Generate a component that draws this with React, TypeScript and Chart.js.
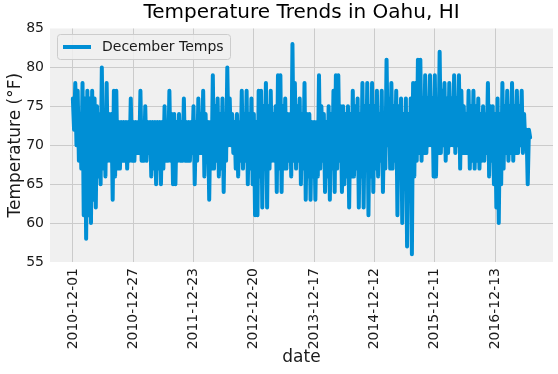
import { useEffect, useRef } from "react";
import { Chart, registerables } from "chart.js";

Chart.register(...registerables);

const TITLE = "Temperature Trends in Oahu, HI";
const SERIES_LABEL = "December Temps";
const Y_LABEL = "Temperature (°F)";
const X_LABEL = "date";

// row positions (pandas index order) where the date ticks sit
const TICK_POSITIONS = [0, 200, 400, 600, 800, 1000, 1200, 1400];
const TICK_LABELS = [
  "2010-12-01",
  "2010-12-27",
  "2011-12-23",
  "2012-12-20",
  "2013-12-17",
  "2014-12-12",
  "2015-12-11",
  "2016-12-13",
];
const LAST_ROW = 1516;
const SAMPLE_STEP = 4; // every 4th row

const Y_MIN = 55;
const Y_MAX = 85;

const TEMPS = [
  76, 72, 78, 70, 77, 68, 74, 67, 78, 61, 76, 58, 77, 61, 76, 60,
  77, 63, 76, 62, 75, 66, 74, 65, 80, 67, 74, 66, 78, 68, 74, 68,
  74, 63, 77, 66, 77, 67, 73, 67, 73, 68, 73, 68, 73, 67, 73, 68,
  76, 68, 73, 68, 73, 69, 73, 69, 77, 68, 73, 68, 75, 68, 73, 69,
  73, 66, 73, 67, 73, 65, 73, 67, 73, 65, 73, 67, 75, 68, 73, 68,
  77, 68, 74, 65, 74, 65, 73, 68, 74, 68, 73, 68, 76, 68, 73, 68,
  73, 68, 73, 69, 75, 65, 73, 68, 76, 69, 74, 69, 77, 66, 74, 68,
  73, 63, 73, 67, 79, 67, 75, 68, 76, 66, 74, 67, 76, 64, 74, 68,
  80, 70, 76, 70, 74, 69, 73, 67, 74, 66, 73, 68, 77, 67, 74, 68,
  77, 65, 74, 67, 76, 65, 74, 61, 73, 61, 77, 66, 77, 62, 75, 67,
  78, 62, 75, 67, 77, 68, 74, 68, 75, 64, 79, 67, 79, 64, 75, 67,
  76, 67, 74, 68, 74, 66, 83, 68, 78, 67, 75, 68, 76, 65, 74, 67,
  78, 63, 74, 66, 74, 63, 73, 66, 73, 63, 73, 66, 79, 67, 75, 68,
  74, 64, 73, 66, 75, 63, 74, 67, 77, 64, 79, 67, 79, 68, 75, 64,
  75, 65, 74, 66, 75, 62, 74, 66, 77, 66, 75, 67, 76, 62, 74, 66,
  78, 62, 75, 67, 78, 61, 75, 66, 78, 64, 75, 67, 77, 66, 74, 68,
  77, 64, 74, 67, 81, 70, 76, 67, 78, 67, 75, 68, 77, 61, 75, 66,
  76, 60, 74, 65, 76, 57, 74, 63, 76, 56, 78, 66, 78, 68, 81, 69,
  81, 68, 76, 69, 79, 69, 76, 70, 79, 70, 76, 66, 79, 66, 76, 69,
  82, 69, 77, 70, 78, 68, 76, 69, 78, 70, 76, 70, 79, 69, 76, 70,
  79, 67, 77, 69, 75, 69, 74, 69, 77, 67, 75, 68, 77, 67, 75, 68,
  76, 67, 74, 68, 75, 68, 74, 69, 78, 66, 75, 68, 75, 65, 74, 62,
  76, 60, 74, 65, 78, 67, 75, 69, 77, 68, 75, 69, 78, 68, 75, 69,
  77, 69, 75, 70, 77, 69, 74, 70, 72, 65, 72, 71,
];

const LINE_COLOR = "#008fd5";
const AXES_BG = "#f0f0f0";
const GRID_COLOR = "#cbcbcb";
const TEXT_COLOR = "#1a1a1a";
const FONT = "'DejaVu Sans', sans-serif";

const decoPlugin = {
  id: "deco",
  beforeDraw(chart: any) {
    const { ctx, chartArea: a, width, height } = chart;
    ctx.save();
    ctx.fillStyle = "#ffffff";
    ctx.fillRect(0, 0, width, height);
    ctx.fillStyle = AXES_BG;
    ctx.fillRect(a.left, a.top, a.right - a.left, a.bottom - a.top);
    ctx.restore();
  },
  afterDraw(chart: any) {
    const { ctx, chartArea: a } = chart;
    const x = a.left + 7;
    const y = a.top + 5.5;
    const w = 173;
    const h = 25;
    ctx.save();
    ctx.beginPath();
    ctx.roundRect(x + 0.5, y + 0.5, w, h, 3);
    ctx.fillStyle = "rgba(240,240,240,0.85)";
    ctx.fill();
    ctx.strokeStyle = "#cccccc";
    ctx.lineWidth = 1;
    ctx.stroke();
    ctx.beginPath();
    ctx.moveTo(x + 6, y + h / 2 + 0.5);
    ctx.lineTo(x + 34, y + h / 2 + 0.5);
    ctx.strokeStyle = LINE_COLOR;
    ctx.lineWidth = 4;
    ctx.stroke();
    ctx.fillStyle = TEXT_COLOR;
    ctx.font = `14px ${FONT}`;
    ctx.textBaseline = "middle";
    ctx.textAlign = "left";
    ctx.fillText(SERIES_LABEL, x + 45, y + h / 2 + 1);
    ctx.restore();
  },
};

export default function App() {
  const canvasRef = useRef<HTMLCanvasElement | null>(null);

  useEffect(() => {
    document.body.style.margin = "0";
    const canvas = canvasRef.current;
    if (!canvas) return;
    const points = TEMPS.map((v, i) => ({ x: i * SAMPLE_STEP, y: v }));
    const margin = LAST_ROW * 0.05;

    const chart = new Chart(canvas, {
      type: "line",
      data: {
        datasets: [
          {
            label: SERIES_LABEL,
            data: points,
            borderColor: LINE_COLOR,
            backgroundColor: LINE_COLOR,
            borderWidth: 4,
            pointRadius: 0,
            tension: 0,
            borderJoinStyle: "round",
            borderCapStyle: "round",
          },
        ],
      },
      options: {
        animation: false,
        responsive: false,
        devicePixelRatio: 1,
        layout: { padding: { top: 1, right: 5, left: 0, bottom: 0 } },
        plugins: {
          legend: { display: false },
          tooltip: { enabled: false },
          title: {
            display: true,
            text: TITLE,
            fullSize: false,
            color: "#000",
            font: { family: FONT, size: 20, weight: "normal" },
            padding: { top: 0, bottom: 3.5 },
          },
        },
        scales: {
          x: {
            type: "linear",
            min: -margin,
            max: LAST_ROW + margin,
            afterBuildTicks: (s: any) => {
              s.ticks = TICK_POSITIONS.map((v) => ({ value: v }));
            },
            afterFit: (s: any) => {
              s.height = 112;
            },
            border: { display: false },
            grid: { color: GRID_COLOR, lineWidth: 1, drawTicks: false },
            ticks: {
              autoSkip: false,
              minRotation: 90,
              maxRotation: 90,
              padding: 6,
              color: TEXT_COLOR,
              font: { family: FONT, size: 14 },
              callback: (v: any) => {
                const k = TICK_POSITIONS.indexOf(Number(v));
                return k >= 0 ? TICK_LABELS[k] : "";
              },
            },
            title: {
              display: true,
              text: X_LABEL,
              color: TEXT_COLOR,
              font: { family: FONT, size: 17 },
              padding: { top: 0, bottom: 6 },
            },
          },
          y: {
            min: Y_MIN,
            max: Y_MAX,
            afterFit: (s: any) => {
              s.width = 50;
            },
            border: { display: false },
            grid: {
              color: (c: any) =>
                c.tick && (c.tick.value === Y_MIN || c.tick.value === Y_MAX)
                  ? "rgba(0,0,0,0)"
                  : GRID_COLOR,
              lineWidth: 1,
              drawTicks: false,
            },
            ticks: {
              stepSize: 5,
              padding: 6,
              color: TEXT_COLOR,
              font: { family: FONT, size: 14 },
            },
            title: {
              display: true,
              text: Y_LABEL,
              color: TEXT_COLOR,
              font: { family: FONT, size: 17 },
              padding: { top: 5, bottom: 0 },
            },
          },
        },
      },
      plugins: [decoPlugin],
    });

    return () => chart.destroy();
  }, []);

  return (
    <div style={{ width: 558, height: 374 }}>
      <canvas ref={canvasRef} width={558} height={374} style={{ display: "block" }} />
    </div>
  );
}
